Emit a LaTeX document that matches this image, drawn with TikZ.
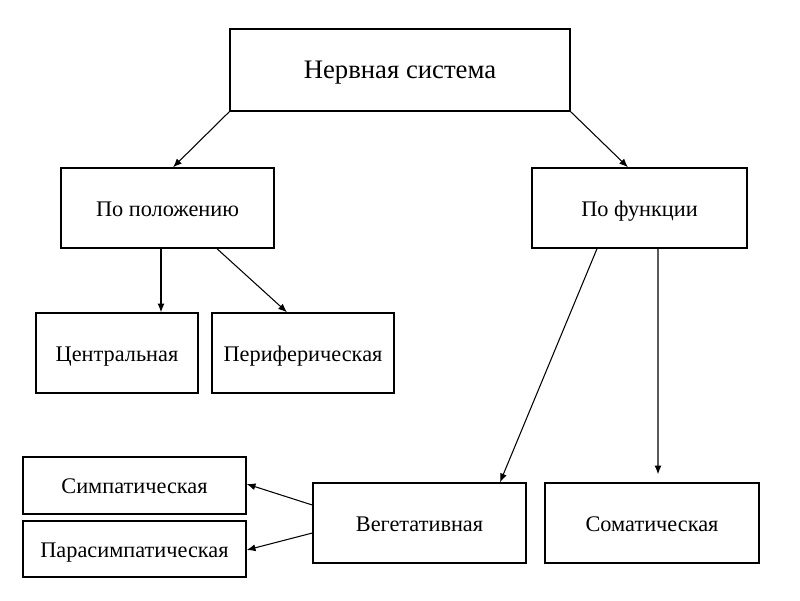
\documentclass[tikz,border=0pt]{standalone}
\usepackage{fontspec}
\setmainfont{Liberation Serif}
\usetikzlibrary{calc,arrows.meta}

\tikzset{
    blok/.style={draw, thick, inner sep=0pt, text height=2.2ex, text depth=0.2ex,
                 font=\fontsize{12.7}{15}\selectfont},
    strelka/.style={-{Latex[length=5pt,width=4pt]}, semithick}
}

\begin{document}
\begin{tikzpicture}[x=0.02cm,y=-0.02cm]
            \useasboundingbox (0,0) rectangle (800,600);
            % verkhnij uroven
            \node[blok, minimum width=6.8cm, minimum height=1.64cm,
                  font=\fontsize{15.2}{18}\selectfont] (sistema) at (400,70) {Нервная система};
            \node[blok, minimum width=4.26cm, minimum height=1.6cm] (polozh) at (167.5,208) {По положению};
            \node[blok, minimum width=4.3cm, minimum height=1.6cm] (funk) at (639.5,208) {По функции};
            % po polozheniju
            \node[blok, minimum width=3.24cm, minimum height=1.6cm] (centr) at (117,353) {Центральная};
            \node[blok, minimum width=3.64cm, minimum height=1.6cm] (perif) at (303,353) {Периферическая};
            % po funkcii
            \node[blok, minimum width=4.26cm, minimum height=1.6cm] (veget) at (419.5,523) {Вегетативная};
            \node[blok, minimum width=4.28cm, minimum height=1.6cm] (somat) at (652,523) {Соматическая};
            \node[blok, minimum width=4.46cm, minimum height=1.14cm] (simp) at (134.5,485.5) {Симпатическая};
            \node[blok, minimum width=4.46cm, minimum height=1.12cm] (para) at (134.5,549) {Парасимпатическая};

            \draw[strelka] (sistema.south west) -- ($(polozh.north)+(5.5,0)$);
            \draw[strelka] (sistema.south east) -- ($(funk.north)+(-11.5,0)$);
            \draw[strelka] ($(polozh.south)+(-6.5,0)$) -- ($(centr.north)+(44,0)$);
            \draw[strelka] ($(polozh.south)+(49.5,0)$) -- ($(perif.north)+(-16,0)$);
            \draw[strelka] ($(funk.south)+(-42.5,0)$) -- ($(veget.north)+(80.5,0)$);
            \draw[strelka, shorten >=8pt*0.57] ($(funk.south)+(18.5,0)$) -- ($(somat.north)+(6,0)$);
            \draw[strelka] ($(veget.west)+(0,-18)$) -- ($(simp.east)+(0,-1.5)$);
            \draw[strelka] ($(veget.west)+(0,10)$) -- ($(para.east)+(0,1)$);
        \end{tikzpicture}
\end{document}
